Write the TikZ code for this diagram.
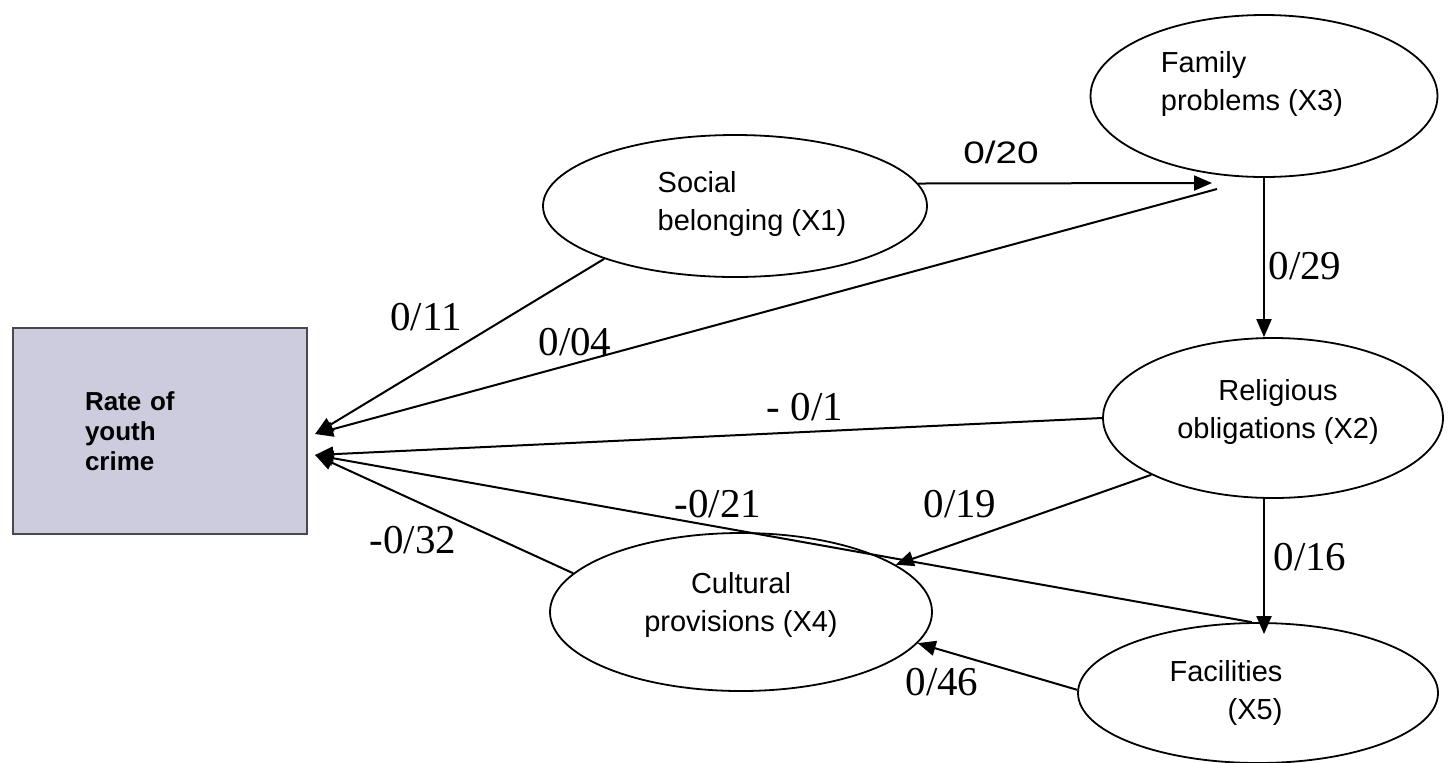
\documentclass[tikz,border=0pt]{standalone}
\usepackage{fontspec}
\setmainfont{Liberation Serif}
\setsansfont{Liberation Sans}
\usetikzlibrary{shapes,arrows.meta,positioning,calc}
\definecolor{crimefill}{RGB}{204,204,222}
\definecolor{crimeedge}{RGB}{72,72,72}

\begin{document}
\begin{tikzpicture}[
    x=0.5pt, y=-0.5pt,
    outcome/.style={rectangle, draw=crimeedge, line width=1.1pt, fill=crimefill, minimum width=147pt, minimum height=103pt, inner xsep=36pt, text width=75pt, align=left, font=\sffamily\bfseries\fontsize{13}{15}\selectfont},
    factor/.style={ellipse, draw, line width=0.9pt, inner sep=0pt},
    factortext/.style={font=\sffamily\fontsize{14.5}{19}\selectfont, inner sep=0pt},
    coef/.style={font=\fontsize{20.5}{24}\selectfont, inner sep=0pt},
    arrow/.style={-{Triangle[length=9pt, width=7.5pt]}, line width=1pt}
]

\useasboundingbox (0,0) rectangle (1450,762);

% Outcome
\node[outcome] (rate) at (160,431) {Rate of\\youth\\crime};

% Factors
\node[factor, minimum width=192pt, minimum height=71pt, label={[factortext, align=left, xshift=8.5pt, yshift=1pt]center:Social\\belonging (X1)}] (x1) at (735,206) {};
\node[factor, minimum width=173.5pt, minimum height=81pt, label={[factortext, align=left, xshift=-6pt, yshift=6pt]center:Family\\problems (X3)}] (x3) at (1264,96) {};
\node[factor, minimum width=170pt, minimum height=80pt, label={[factortext, align=center, xshift=2.5pt, yshift=3pt]center:Religious\\obligations (X2)}] (x2) at (1273,418) {};
\node[factor, minimum width=191pt, minimum height=79pt, label={[factortext, align=center, xshift=0pt, yshift=3.5pt]center:Cultural\\provisions (X4)}] (x4) at (741,612) {};
\node[factor, minimum width=180pt, minimum height=70pt, label={[factortext, align=right, xshift=-16pt, yshift=0pt]center:Facilities\\(X5)}] (x5) at (1258,693) {};

% Free ends
\coordinate (hitA) at ($(rate.east)+(7,3)$);
\coordinate (hitB) at ($(rate.east)+(7,24)$);
\coordinate (x3foot) at (1212,183);
\coordinate (x3low) at (1217,189);

% Arrows
\draw[arrow] (x1.7) -- (x3foot);
\draw[arrow] (x3.south) -- (x3.south |- x2.north);
\draw[arrow] (x2.south -| x3.south) -- ($(x5.north -| x3.south)+(0,12)$);
\draw[arrow] (x1.202) -- (hitA);
\draw[arrow] (x3low) -- (hitA);
\draw[arrow] (x2.west) -- (hitB);
\draw[arrow] (x5.95) -- (hitB);
\draw[arrow] (x4.167) -- (hitB);
\draw[arrow] (x2.205) -- (x4.17);
\draw[arrow] (x5.179) -- (x4.-10.6);

% Coefficients
\node[font=\sffamily\fontsize{15.5}{18}\selectfont, inner sep=0pt] (c20) at (1001,152) {\scalebox{1.25}[1]{0/20}};
\node[coef] (c29) at (1305,266) {0/29};
\node[coef] (c16) at (1310,557) {0/16};
\node[coef] (c11) at (426,317) {0/11};
\node[coef] (c04) at (575,342) {0/04};
\node[coef] (c1) at (805,407) {- 0/1};
\node[coef] (c21) at (718,504) {-0/21};
\node[coef] (c32) at (413,540) {-0/32};
\node[coef] (c19) at (960,504) {0/19};
\node[coef] (c46) at (942,682) {0/46};

\end{tikzpicture}
\end{document}
